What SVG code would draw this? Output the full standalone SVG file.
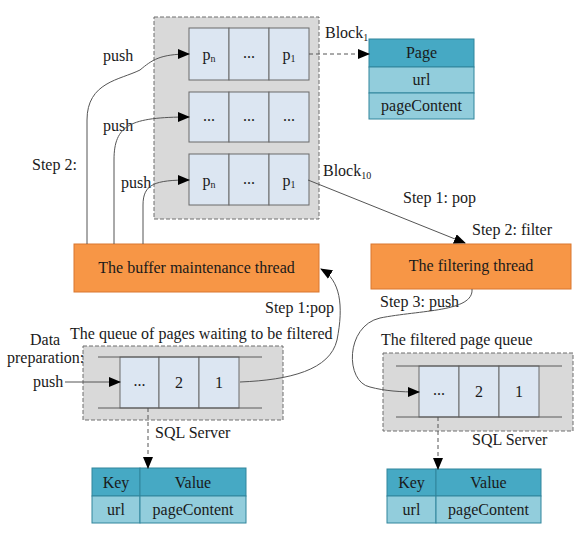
<svg xmlns="http://www.w3.org/2000/svg" width="583" height="539" viewBox="0 0 583 539">
<defs>
<marker id="ah" markerWidth="12" markerHeight="10" refX="11" refY="5" orient="auto" markerUnits="userSpaceOnUse">
<path d="M0,0 L12,5 L0,10 z" fill="#000"/>
</marker>
<style>
text{font-family:"Liberation Serif","Times New Roman",serif;font-size:16px;fill:#1a1a1a}
.c{text-anchor:middle}
.box{fill:#d9d9d9;stroke:#6e6e6e;stroke-width:1;stroke-dasharray:4,2}
.cell{fill:#dce6f2;stroke:#6a6a6a;stroke-width:1}
.ln{stroke:#5a5a5a;stroke-width:1;fill:none}
.th{fill:#f79646;stroke:#d9772e;stroke-width:1}
.hd{fill:#46a9c4;stroke:#31859c;stroke-width:1}
.rw{fill:#92cddc;stroke:#31859c;stroke-width:1}
.con{fill:none;stroke:#555;stroke-width:1}
.dash{fill:none;stroke:#555;stroke-width:1;stroke-dasharray:4,3}
</style>
</defs>

<g id="buffer-blocks">
<rect class="box" x="154" y="17" width="165" height="202"/>
<rect class="cell" x="189" y="28" width="40" height="52"/>
<rect class="cell" x="229" y="28" width="40" height="52"/>
<rect class="cell" x="269" y="28" width="40" height="52"/>
<text class="c" x="209" y="60">p<tspan font-size="10" dy="2">n</tspan></text>
<text class="c" x="249" y="58">...</text>
<text class="c" x="289" y="60">p<tspan font-size="10" dy="2">1</tspan></text>
<rect class="cell" x="189" y="92" width="40" height="50"/>
<rect class="cell" x="229" y="92" width="40" height="50"/>
<rect class="cell" x="269" y="92" width="40" height="50"/>
<text class="c" x="209" y="121">...</text>
<text class="c" x="249" y="121">...</text>
<text class="c" x="289" y="121">...</text>
<rect class="cell" x="189" y="154" width="40" height="51"/>
<rect class="cell" x="229" y="154" width="40" height="51"/>
<rect class="cell" x="269" y="154" width="40" height="51"/>
<text class="c" x="209" y="186">p<tspan font-size="10" dy="2">n</tspan></text>
<text class="c" x="249" y="184">...</text>
<text class="c" x="289" y="186">p<tspan font-size="10" dy="2">1</tspan></text>
</g>

<g id="block1-label"><text x="325" y="38">Block<tspan font-size="10" dy="3">1</tspan></text></g>
<g id="block10-label"><text x="323" y="176">Block<tspan font-size="10" dy="3">10</tspan></text></g>

<g id="page-table">
<rect class="hd" x="369" y="39" width="105" height="28"/>
<rect class="rw" x="369" y="67" width="105" height="26"/>
<rect class="rw" x="369" y="93" width="105" height="26"/>
<text class="c" x="421.5" y="58">Page</text>
<text class="c" x="421.5" y="85">url</text>
<text class="c" x="421.5" y="111">pageContent</text>
</g>

<g id="buffer-thread">
<rect class="th" x="74" y="244" width="245" height="48"/>
<text class="c" x="196.5" y="273">The buffer maintenance thread</text>
</g>

<g id="filter-thread">
<rect class="th" x="371" y="244" width="200" height="45"/>
<text class="c" x="471" y="271">The filtering thread</text>
</g>

<g id="wait-queue">
<text x="70" y="339">The queue of pages waiting to be filtered</text>
<rect class="box" x="83" y="346" width="200" height="74"/>
<rect class="cell" x="120" y="357" width="39" height="51"/>
<rect class="cell" x="159" y="357" width="40" height="51"/>
<rect class="cell" x="199" y="357" width="40" height="51"/>
<line class="ln" x1="98" y1="357" x2="262" y2="357"/>
<line class="ln" x1="98" y1="408" x2="262" y2="408"/>
<text class="c" x="139.5" y="386">...</text>
<text class="c" x="179" y="388">2</text>
<text class="c" x="219" y="388">1</text>
<text x="155" y="438">SQL Server</text>
</g>

<g id="filtered-queue">
<text x="381" y="345">The filtered page queue</text>
<rect class="box" x="383" y="353" width="190" height="78"/>
<rect class="cell" x="419" y="366" width="40" height="51"/>
<rect class="cell" x="459" y="366" width="40" height="51"/>
<rect class="cell" x="499" y="366" width="40" height="51"/>
<line class="ln" x1="396" y1="366" x2="562" y2="366"/>
<line class="ln" x1="396" y1="417" x2="562" y2="417"/>
<text class="c" x="439" y="395">...</text>
<text class="c" x="479" y="397">2</text>
<text class="c" x="519" y="397">1</text>
<text x="472" y="445">SQL Server</text>
</g>

<g id="kv-left">
<rect class="hd" x="92" y="468" width="48" height="28"/>
<rect class="hd" x="140" y="468" width="106" height="28"/>
<rect class="rw" x="92" y="496" width="48" height="27"/>
<rect class="rw" x="140" y="496" width="106" height="27"/>
<text class="c" x="116" y="488">Key</text>
<text class="c" x="193" y="488">Value</text>
<text class="c" x="116" y="515">url</text>
<text class="c" x="193" y="515">pageContent</text>
</g>

<g id="kv-right">
<rect class="hd" x="387" y="469" width="49" height="27"/>
<rect class="hd" x="436" y="469" width="105" height="27"/>
<rect class="rw" x="387" y="496" width="49" height="27"/>
<rect class="rw" x="436" y="496" width="105" height="27"/>
<text class="c" x="411.5" y="488">Key</text>
<text class="c" x="488.5" y="488">Value</text>
<text class="c" x="411.5" y="515">url</text>
<text class="c" x="488.5" y="515">pageContent</text>
</g>

<g id="labels">
<text x="103" y="61">push</text>
<text x="103" y="131">push</text>
<text x="121" y="188">push</text>
<text x="32" y="170">Step 2:</text>
<text x="403" y="203">Step 1: pop</text>
<text x="472" y="235">Step 2: filter</text>
<text x="265" y="313">Step 1:pop</text>
<text x="380" y="307">Step 3: push</text>
<text x="30" y="345">Data</text>
<text x="7" y="363">preparation:</text>
<text x="33" y="387">push</text>
</g>

<g id="connectors">
<path class="con" d="M87,244 L87,120 C87,82 120,80 140,70 C152,60 160,54 189,54" marker-end="url(#ah)"/>
<path class="con" d="M114,244 L114,160 C114,125 130,117 189,117" marker-end="url(#ah)"/>
<path class="con" d="M143,244 L143,205 C143,184 155,180 189,180" marker-end="url(#ah)"/>
<path class="dash" d="M309,54 L369,54" marker-end="url(#ah)"/>
<path class="con" d="M308,180 L465,243" marker-end="url(#ah)"/>
<path class="con" d="M240,382 C290,380 330,370 337,340 C344,305 340,280 321,269" marker-end="url(#ah)"/>
<path class="con" d="M472,289 C474,312 420,310 380,318 C345,326 345,382 370,387 C385,391 400,392 419,392" marker-end="url(#ah)"/>
<path class="con" d="M65,382 L120,382" marker-end="url(#ah)"/>
<path class="dash" d="M148,408 L148,468" marker-end="url(#ah)"/>
<path class="dash" d="M438,417 L438,469" marker-end="url(#ah)"/>
</g>
</svg>
